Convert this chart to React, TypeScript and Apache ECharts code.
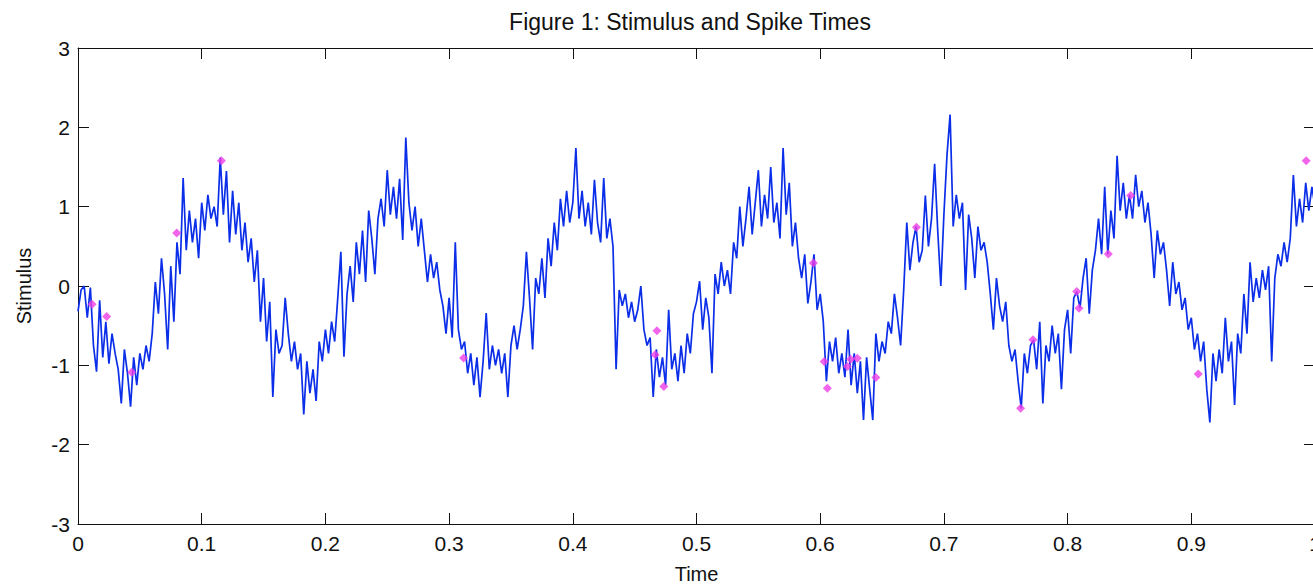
import React, { useEffect, useRef } from "react";
import * as echarts from "echarts";

const TITLE = "Figure 1: Stimulus and Spike Times";
const X_LABEL = "Time";
const Y_LABEL = "Stimulus";

const SAMPLE_STEP = 0.0025;
const stimulus: number[] = [
  // 0.00 - 0.0475
  -0.32, -0.05, 0.0, -0.4, -0.02, -0.75, -1.08, -0.18, -0.9, -0.45, -0.98, -0.6, -0.85, -1.05, -1.48, -0.8, -1.1, -1.52, -0.9, -1.25,
  // 0.05 - 0.0975
  -0.85, -1.05, -0.75, -0.95, -0.6, 0.05, -0.35, 0.35, -0.1, -0.8, 0.25, -0.45, 0.55, 0.15, 1.36, 0.45, 0.95, 0.55, 0.85, 0.35,
  // 0.10 - 0.1475
  1.05, 0.7, 1.15, 0.85, 1.0, 0.75, 1.62, 0.9, 1.45, 0.55, 1.2, 0.65, 1.05, 0.45, 0.8, 0.3, 0.6, 0.05, 0.45, -0.45,
  // 0.15 - 0.1975
  0.1, -0.7, -0.2, -1.4, -0.55, -0.85, -0.75, -0.15, -0.6, -0.95, -0.7, -1.05, -0.85, -1.62, -0.95, -1.35, -1.05, -1.45, -0.7, -0.95,
  // 0.20 - 0.2475
  -0.55, -0.85, -0.45, -0.7, -0.15, 0.43, -0.89, -0.1, 0.25, -0.2, 0.55, 0.15, 0.7, 0.05, 0.95, 0.6, 0.15, 0.85, 1.1, 0.75,
  // 0.25 - 0.2975
  1.46, 0.9, 1.25, 0.85, 1.35, 0.58, 1.87, 1.05, 0.7, 1.0, 0.5, 0.85, 0.45, 0.05, 0.4, 0.1, 0.3, -0.05, -0.25, -0.6,
  // 0.30 - 0.3475
  -0.15, -0.65, 0.55, -0.55, -0.8, -0.7, -1.1, -0.85, -1.25, -0.9, -1.4, -0.95, -0.34, -1.05, -0.75, -1.0, -0.8, -1.1, -0.85, -1.4,
  // 0.35 - 0.3975
  -0.75, -0.5, -0.8, -0.55, -0.25, 0.43, -0.15, -0.8, 0.1, -0.1, 0.35, -0.15, 0.6, 0.25, 0.8, 0.45, 1.1, 0.75, 1.2, 0.8,
  // 0.40 - 0.4475
  1.05, 1.74, 0.85, 1.2, 0.75, 1.05, 0.65, 1.34, 0.8, 0.55, 1.36, 0.6, 0.85, 0.5, -1.05, -0.05, -0.25, -0.1, -0.4, -0.2,
  // 0.45 - 0.4975
  -0.45, -0.3, 0.0, -0.55, -0.75, -0.65, -1.4, -0.8, -1.15, -0.9, -1.25, -0.3, -1.05, -0.85, -1.2, -0.75, -1.1, -0.6, -0.85, -0.35,
  // 0.50 - 0.5475
  -0.2, 0.06, -0.55, -0.15, -0.4, -1.1, 0.15, -0.1, 0.3, 0.0, 0.2, -0.1, 0.55, 0.35, 1.0, 0.5, 0.85, 1.25, 0.65, 1.05,
  // 0.55 - 0.5975
  1.46, 0.75, 1.15, 0.85, 1.5, 0.8, 1.05, 0.6, 1.74, 0.9, 1.3, 0.5, 0.8, 0.35, 0.1, 0.4, -0.22, 0.05, 0.4, -0.3,
  // 0.60 - 0.6475
  -0.1, -0.45, -1.2, -0.7, -0.95, -0.65, -1.1, -0.85, -1.15, -0.55, -1.25, -0.85, -1.35, -0.95, -1.69, -0.9, -1.3, -1.69, -0.6, -0.95,
  // 0.65 - 0.6975
  -0.7, -0.85, -0.45, -0.6, -0.1, -0.4, -0.75, -0.05, 0.8, 0.2, 0.55, 0.75, 0.3, 0.45, 1.14, 0.5, 0.85, 1.54, 0.7, 0.0,
  // 0.70 - 0.7475
  0.9, 1.65, 2.16, 0.75, 1.15, 0.85, 1.05, -0.05, 0.9, 0.6, 0.1, 0.75, 0.45, 0.55, 0.3, -0.1, -0.55, 0.1, -0.25, -0.45,
  // 0.75 - 0.7975
  -0.2, -0.75, -0.95, -0.8, -1.2, -1.54, -0.85, -1.1, -0.75, -0.68, -1.05, -0.45, -1.48, -0.75, -0.95, -0.5, -0.85, -0.6, -1.3, -0.55,
  // 0.80 - 0.8475
  -0.3, -0.85, -0.15, -0.07, -0.28, 0.1, 0.35, -0.35, 0.2, 0.45, 0.85, 0.4, 1.25, 0.4, 0.95, 0.6, 1.64, 0.95, 1.3, 0.85,
  // 0.85 - 0.8975
  1.15, 0.85, 1.4, 1.0, 1.2, 0.8, 1.05, 0.65, 0.1, 0.7, 0.4, 0.55, 0.2, -0.25, 0.3, -0.1, 0.05, -0.3, -0.15, -0.55,
  // 0.90 - 0.9475
  -0.4, -0.8, -0.6, -0.95, -0.7, -1.3, -1.72, -0.85, -1.2, -0.8, -1.1, -0.4, -0.95, -0.7, -1.5, -0.6, -0.85, -0.1, -0.6, 0.3,
  // 0.95 - 0.9975
  -0.2, 0.1, -0.15, 0.2, -0.05, 0.25, -0.95, 0.1, 0.4, 0.25, 0.55, 0.3, 0.6, 1.4, 0.75, 1.1, 0.8, 1.3, 0.95, 1.25,
  // 1.00
  1.0,
];

const spikeTimes: number[] = [
  0.0114, 0.0232, 0.0434, 0.0798, 0.1159, 0.3117, 0.4666, 0.468, 0.4736, 0.5945, 0.6032, 0.6058, 0.622,
  0.6246, 0.63, 0.645, 0.6778, 0.762, 0.772, 0.8074, 0.8092, 0.8329, 0.851, 0.9056, 0.9929,
];
const spikeValues: number[] = [
  -0.23, -0.385, -1.087, 0.667, 1.58, -0.909, -0.868, -0.565, -1.267, 0.289, -0.952, -1.288, -1.015,
  -0.922, -0.91, -1.153, 0.742, -1.54, -0.678, -0.069, -0.279, 0.402, 1.14, -1.11, 1.579,
];

const X_MIN = 0;
const X_MAX = 1;
const X_STEP = 0.1;
const Y_MIN = -3;
const Y_MAX = 3;
const Y_STEP = 1;

const FONT = "'Liberation Sans', Arial, Helvetica, sans-serif";

export default function App() {
  const ref = useRef<HTMLDivElement>(null);

  useEffect(() => {
    if (!ref.current) return;
    const chart = echarts.init(ref.current, undefined, { renderer: "svg" });

    const lineData = stimulus.map((v, i) => [i * SAMPLE_STEP, v]);
    const spikeData = spikeTimes.map((t, i) => [t, spikeValues[i]]);

    const tickStyle = { show: true, inside: true, length: 11, lineStyle: { color: "#111", width: 1 } };
    const axisLine = { show: true, onZero: false, lineStyle: { color: "#111", width: 1 } };
    const labelStyle = { color: "#111", fontFamily: FONT, fontSize: 21 };

    chart.setOption({
      animation: false,
      backgroundColor: "#ffffff",
      grid: {
        left: 78,
        top: 48,
        width: 1237,
        height: 476,
        containLabel: false,
        outerBoundsMode: "none",
        show: false,
      },
      graphic: [
        {
          type: "text",
          x: 690,
          y: 22,
          style: {
            text: TITLE,
            textAlign: "center",
            textVerticalAlign: "middle",
            fill: "#111",
            font: `23px ${FONT}`,
          },
        },
      ],
      xAxis: [
        {
          type: "value",
          min: X_MIN,
          max: X_MAX,
          interval: X_STEP,
          position: "bottom",
          axisLine,
          axisTick: tickStyle,
          splitLine: { show: false },
          axisLabel: { ...labelStyle, margin: 9, showMaxLabel: true, showMinLabel: true },
          name: X_LABEL,
          nameLocation: "middle",
          nameGap: 40,
          nameTextStyle: { ...labelStyle, fontSize: 20 },
        },
        {
          type: "value",
          min: X_MIN,
          max: X_MAX,
          interval: X_STEP,
          position: "top",
          axisLine,
          axisTick: tickStyle,
          splitLine: { show: false },
          axisLabel: { show: false },
        },
      ],
      yAxis: [
        {
          type: "value",
          min: Y_MIN,
          max: Y_MAX,
          interval: Y_STEP,
          position: "left",
          axisLine,
          axisTick: tickStyle,
          splitLine: { show: false },
          axisLabel: { ...labelStyle, margin: 8 },
          name: Y_LABEL,
          nameLocation: "middle",
          nameGap: 44,
          nameTextStyle: { ...labelStyle, fontSize: 20 },
        },
        {
          type: "value",
          min: Y_MIN,
          max: Y_MAX,
          interval: Y_STEP,
          position: "right",
          axisLine,
          axisTick: tickStyle,
          splitLine: { show: false },
          axisLabel: { show: false },
        },
      ],
      series: [
        {
          type: "line",
          name: "Stimulus",
          data: lineData,
          xAxisIndex: 0,
          yAxisIndex: 0,
          showSymbol: false,
          symbol: "none",
          lineStyle: { color: "#0b2ee8", width: 1.7 },
          z: 2,
        },
        {
          type: "scatter",
          name: "Spikes",
          data: spikeData,
          xAxisIndex: 0,
          yAxisIndex: 0,
          symbol: "diamond",
          symbolSize: 9,
          itemStyle: { color: "#ee3ee6" },
          z: 3,
        },
      ],
    });

    return () => chart.dispose();
  }, []);

  return (
    <div
      style={{
        position: "fixed",
        left: 0,
        top: 0,
        width: 1313,
        height: 584,
        overflow: "hidden",
        background: "#ffffff",
      }}
    >
      <div ref={ref} style={{ width: 1330, height: 584 }} />
    </div>
  );
}
